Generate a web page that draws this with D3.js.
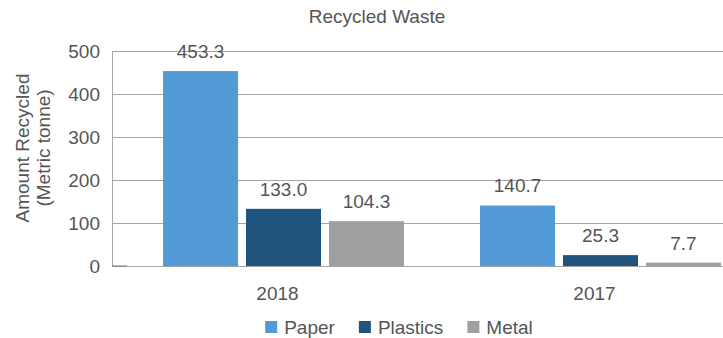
<!DOCTYPE html>
<html>
  <head>
    <meta charset="utf-8">
    <title>Recycled Waste</title>
    <script src="https://d3js.org/d3.v7.min.js"></script>
    <style>
      body { margin: 0; background: #fff; }
      svg { font-family: "Liberation Sans", Arial, sans-serif; fill: #555; }
      .grid line { stroke: #a6a6a6; stroke-width: 1; }
    </style>
  </head>
  <body>
    <svg id="chart" width="723" height="338"></svg>
    <script>
      // data
      var years = ["2018", "2017"];
      var series = ["Paper", "Plastics", "Metal"];
      var paper = [453.3, 140.7];
      var plastics = [133.0, 25.3];
      var metal = [104.3, 7.7];
      var yTicks = [0, 100, 200, 300, 400, 500];
      var colors = ["#519ad5", "#1f547e", "#a0a0a2"];

      var values = { Paper: paper, Plastics: plastics, Metal: metal };
      var rows = years.map(function(y, i) {
        return { year: y, vals: series.map(function(s) { return { key: s, value: values[s][i] }; }) };
      });

      var svg = d3.select("#chart");
      var margin = { left: 112, right: 0, top: 51, bottom: 72 };
      var fs = "19px";

      var y = d3.scaleLinear().domain([0, 500]).range([266, 51]);
      var x0 = d3.scaleBand().domain(years).range([125, 759]).paddingInner(0.24).paddingOuter(0.12);
      var x1 = d3.scaleBand().domain(series).range([0, x0.bandwidth()]).paddingInner(0.096);
      var color = d3.scaleOrdinal().domain(series).range(colors);

      // title
      svg.append("text")
        .attr("x", 377).attr("y", 23)
        .attr("text-anchor", "middle")
        .style("font-size", fs)
        .text("Recycled Waste");

      // gridlines
      var yAxis = d3.axisLeft(y).tickValues(yTicks).tickSize(-(723 - margin.left)).tickPadding(12);
      var g = svg.append("g").attr("class", "grid").attr("transform", "translate(" + margin.left + ",0)").call(yAxis);
      g.select(".domain").attr("stroke", "#a6a6a6");
      g.selectAll("text").style("font-size", fs).attr("fill", "#555");
      svg.append("line")
        .attr("x1", margin.left).attr("x2", margin.left + 15)
        .attr("y1", y(0)).attr("y2", y(0))
        .attr("stroke", "#777");

      // bars
      var groups = svg.append("g").selectAll("g")
        .data(rows).enter().append("g")
        .attr("transform", function(d) { return "translate(" + x0(d.year) + ",0)"; });
      groups.selectAll("rect")
        .data(function(d) { return d.vals; })
        .enter().append("rect")
        .attr("x", function(d) { return x1(d.key); })
        .attr("y", function(d) { return y(d.value); })
        .attr("width", x1.bandwidth())
        .attr("height", function(d) { return y(0) - y(d.value); })
        .attr("fill", function(d) { return color(d.key); });
      groups.selectAll(".lbl")
        .data(function(d) { return d.vals; })
        .enter().append("text")
        .attr("class", "lbl")
        .attr("x", function(d) { return x1(d.key) + x1.bandwidth() / 2; })
        .attr("y", function(d) { return y(d.value) - 13; })
        .attr("text-anchor", "middle")
        .style("font-size", fs)
        .text(function(d) { return d.value.toFixed(1); });

      // x labels
      svg.append("g").selectAll("text")
        .data(years).enter().append("text")
        .attr("x", function(d) { return x0(d) + x0.bandwidth() / 2 - 6; })
        .attr("y", 300)
        .attr("text-anchor", "middle")
        .style("font-size", fs)
        .text(function(d) { return d; });

      // y title
      var yt = svg.append("text")
        .attr("transform", "translate(29,148) rotate(-90)")
        .attr("text-anchor", "middle")
        .style("font-size", fs);
      yt.append("tspan").attr("x", 0).attr("dy", 0).text("Amount Recycled");
      yt.append("tspan").attr("x", 0).attr("dy", 21).text("(Metric tonne)");

      // legend
      var legend = svg.append("g");
      var lx = 0;
      series.forEach(function(s) {
        var item = legend.append("g").attr("transform", "translate(" + lx + ",0)");
        item.append("rect").attr("x", 0).attr("y", -6).attr("width", 12).attr("height", 12).attr("fill", color(s));
        var t = item.append("text").attr("x", 19).attr("y", 7).style("font-size", fs).text(s);
        lx += 19 + t.node().getComputedTextLength() + 24;
      });
      var total = lx - 24;
      legend.attr("transform", "translate(" + (399 - total / 2) + ",327)");
    </script>
  </body>
</html>
